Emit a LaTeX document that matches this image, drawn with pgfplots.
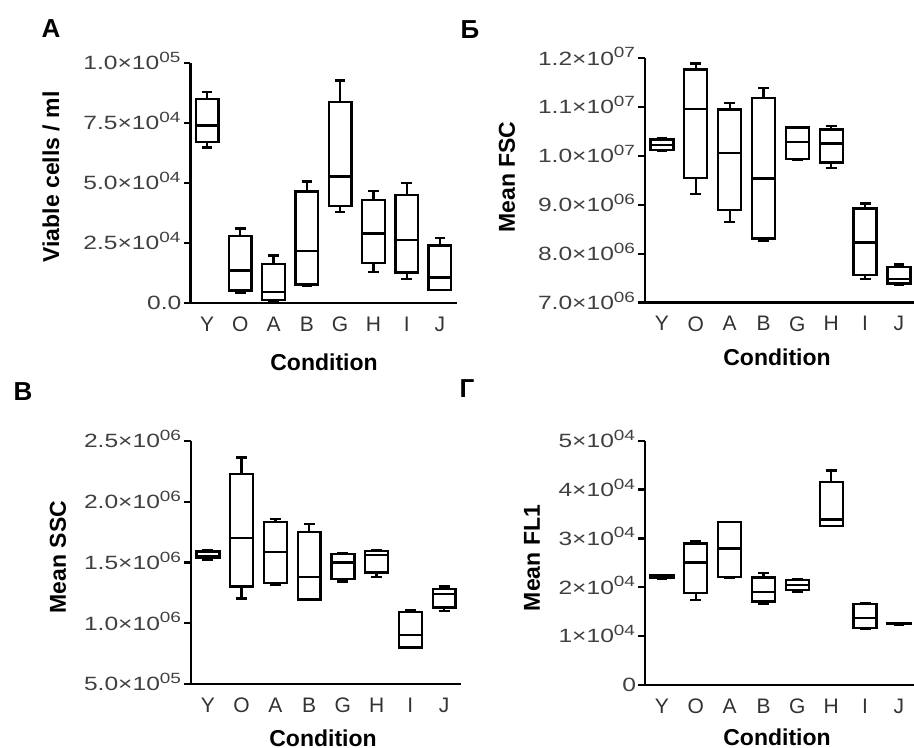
\documentclass[border=0pt]{standalone}
\usepackage{fontspec}
\setmainfont{Liberation Sans}
\newfontfamily\tickfont[FakeStretch=1.28]{Liberation Sans}
\usepackage{pgfplots}
\pgfplotsset{compat=1.18}
\usepgfplotslibrary{statistics}

\newcommand{\sups}[1]{\textsuperscript{\fontsize{7.4}{8}\selectfont #1}}
% one prepared box: position, lower whisker, lower quartile, median, upper quartile, upper whisker
\newcommand{\bx}[6]{\addplot[boxplot prepared={draw position=#1, lower whisker=#2,
  lower quartile=#3, median=#4, upper quartile=#5, upper whisker=#6}] coordinates {};}

\pgfplotsset{
  panel/.style={
    scale only axis, anchor=south west,
    axis lines=left, axis line style={-, line width=1.2pt, black},
    xmin=-0.5, xmax=7.5,
    xtick={0,...,7}, xticklabels={Y,O,A,B,G,H,I,J},
    x tick style={draw=none},
    y tick style={line width=1.2pt, black},
    tick align=outside, major tick length=3.3pt,
    scaled y ticks=false,
    xticklabel style={font=\fontsize{10.5}{12}\selectfont, text=black!80},
    yticklabel style={font=\tickfont\fontsize{9.6}{11}\selectfont, text=black!75,
      anchor=base east, yshift=-3.4pt, inner sep=1pt},
    boxplot/draw direction=y,
    boxplot/box extend=0.68,
    boxplot/whisker extend=0.32,
    every axis plot/.append style={black, line width=1.15pt, solid},
    clip=false,
  },
}
\tikzset{
  alab/.style={font=\bfseries\fontsize{11.5}{13}\selectfont},
  plab/.style={font=\bfseries\fontsize{13}{15}\selectfont},
}

\begin{document}
\begin{tikzpicture}
\useasboundingbox (0,0) rectangle (457pt,374pt);
\fill[white] (0,0) rectangle (457pt,374pt);

% A: viable cells
\begin{axis}[panel, at={(95.2pt,222.5pt)}, width=133.1pt, height=120pt,
  ymin=0, ymax=100000, ytick={0,25000,50000,75000,100000},
  yticklabels={0.0, 2.5×10\sups{04}, 5.0×10\sups{04}, 7.5×10\sups{04}, 1.0×10\sups{05}}]
\bx{0}{64800}{67000}{74000}{85000}{87800}
\bx{1}{4200}{5200}{13600}{27800}{31000}
\bx{2}{500}{1300}{4600}{16200}{19800}
\bx{3}{7300}{7700}{21600}{46400}{50600}
\bx{4}{37900}{40500}{52700}{83800}{92700}
\bx{5}{13000}{16600}{29000}{42900}{46800}
\bx{6}{10000}{12700}{26300}{45000}{49900}
\bx{7}{5300}{5400}{10600}{23900}{27000}
\end{axis}

% Б: mean FSC
\begin{axis}[panel, at={(322.5pt,222.65pt)}, width=134.5pt, height=122.2pt, xmax=7.444,
  ymin=7000000, ymax=12000000,
  ytick={7000000,8000000,9000000,10000000,11000000,12000000},
  yticklabels={7.0×10\sups{06}, 8.0×10\sups{06}, 9.0×10\sups{06}, 1.0×10\sups{07}, 1.1×10\sups{07}, 1.2×10\sups{07}}]
\bx{0}{10115000}{10130000}{10230000}{10340000}{10360000}
\bx{1}{9220000}{9556000}{10967000}{11773000}{11896000}
\bx{2}{8657000}{8896000}{10068000}{10954000}{11090000}
\bx{3}{8270000}{8316000}{9543000}{11193000}{11397000}
\bx{4}{9920000}{9940000}{10293000}{10586000}{10600000}
\bx{5}{9750000}{9870000}{10259000}{10545000}{10620000}
\bx{6}{7480000}{7566000}{8234000}{8930000}{9032000}
\bx{7}{7360000}{7390000}{7480000}{7737000}{7784000}
\end{axis}

% В: mean SSC
\begin{axis}[panel, at={(95.5pt,32pt)}, width=135pt, height=121.5pt,
  ymin=500000, ymax=2500000,
  ytick={500000,1000000,1500000,2000000,2500000},
  yticklabels={5.0×10\sups{05}, 1.0×10\sups{06}, 1.5×10\sups{06}, 2.0×10\sups{06}, 2.5×10\sups{06}}]
\bx{0}{1525000}{1535000}{1555000}{1590000}{1605000}
\bx{1}{1204000}{1303000}{1700000}{2229000}{2363000}
\bx{2}{1319000}{1330000}{1585000}{1834000}{1859000}
\bx{3}{1193000}{1195000}{1379000}{1749000}{1815000}
\bx{4}{1344000}{1366000}{1500000}{1571000}{1577000}
\bx{5}{1379000}{1418000}{1563000}{1593000}{1599000}
\bx{6}{796000}{800000}{905000}{1092000}{1111000}
\bx{7}{1103000}{1130000}{1242000}{1284000}{1303000}
\end{axis}

% Г: mean FL1
\begin{axis}[panel, at={(322.5pt,31.5pt)}, width=134.5pt, height=122.15pt, xmax=7.444,
  ymin=0, ymax=50000, ytick={0,10000,20000,30000,40000,50000},
  yticklabels={0, 1×10\sups{04}, 2×10\sups{04}, 3×10\sups{04}, 4×10\sups{04}, 5×10\sups{04}}]
\bx{0}{21800}{21900}{22100}{22400}{22500}
\bx{1}{17330}{18840}{25070}{28970}{29520}
\bx{2}{21990}{22120}{27950}{33290}{33420}
\bx{3}{16640}{17120}{18970}{21990}{22950}
\bx{4}{19040}{19380}{20480}{21440}{21640}
\bx{5}{32600}{32600}{33900}{41510}{43900}
\bx{6}{11510}{11710}{13770}{16510}{16850}
\bx{7}{12400}{12450}{12530}{12650}{12700}
\end{axis}

% panel letters and axis titles
\node[plab] at (25.5pt,359.5pt) {А};
\node[plab] at (235pt,359pt) {Б};
\node[plab] at (11.5pt,178pt) {В};
\node[plab] at (233.5pt,179.5pt) {Г};

\node[alab, rotate=90] at (25.5pt,285.5pt) {Viable cells / ml};
\node[alab, rotate=90] at (253.5pt,285.5pt) {Mean FSC};
\node[alab, rotate=90] at (29pt,95.5pt) {Mean SSC};
\node[alab, rotate=90] at (266pt,95pt) {Mean FL1};

\node[alab] at (162pt,193pt) {Condition};
\node[alab] at (388.5pt,195.5pt) {Condition};
\node[alab] at (161.5pt,5pt) {Condition};
\node[alab] at (388.5pt,5.5pt) {Condition};
\end{tikzpicture}
\end{document}
